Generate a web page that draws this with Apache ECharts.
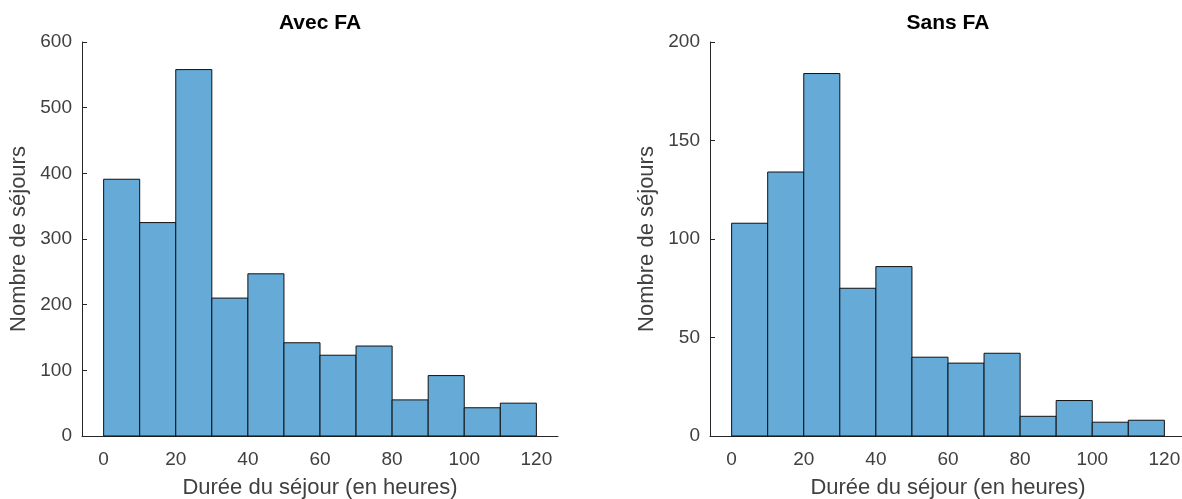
<!DOCTYPE html>
<html>
<head>
<meta charset="utf-8">
<script src="https://cdn.jsdelivr.net/npm/echarts@6/dist/echarts.min.js"></script>
<style>
html,body{margin:0;padding:0;background:#fff;}
#chart{width:1182px;height:499px;}
</style>
</head>
<body>
<div id="chart"></div>
<script>
// ---- data ----
const binEdges = [0, 10, 20, 30, 40, 50, 60, 70, 80, 90, 100, 110, 120];
const avecCounts = [391, 325, 558, 210, 247, 142, 123, 137, 55, 92, 43, 50];
const sansCounts = [108, 134, 184, 75, 86, 40, 37, 42, 10, 18, 7, 8];
const xTicks = [0, 20, 40, 60, 80, 100, 120];
const titles = ['Avec FA', 'Sans FA'];
const xName = 'Durée du séjour (en heures)';
const yName = 'Nombre de séjours';

// ---- styling ----
const FONT = '"Liberation Sans", Arial, Helvetica, sans-serif';
const AXIS = '#262626';
const TEXT = '#404040';
const BAR = '#66aad7';

function histData(counts) {
  return counts.map((c, i) => [binEdges[i], binEdges[i + 1], c]);
}

function renderItem(params, api) {
  const x0 = api.value(0), x1 = api.value(1), y = api.value(2);
  const p0 = api.coord([x0, y]);
  const p1 = api.coord([x1, 0]);
  return {
    type: 'rect',
    shape: { x: p0[0], y: p0[1], width: p1[0] - p0[0], height: p1[1] - p0[1] },
    style: { fill: BAR, stroke: '#111', lineWidth: 1 }
  };
}

function xAxis(idx) {
  return {
    type: 'value', gridIndex: idx, min: -6, max: 126,
    name: xName, nameLocation: 'middle', nameGap: 41,
    nameTextStyle: { fontFamily: FONT, fontSize: 22, color: TEXT },
    axisLine: { show: true, onZero: false, lineStyle: { color: AXIS, width: 1 } },
    axisTick: { show: false },
    axisLabel: { customValues: xTicks, margin: 14, fontFamily: FONT, fontSize: 19, color: TEXT },
    splitLine: { show: false }
  };
}
function yAxis(idx, max, interval) {
  return {
    type: 'value', gridIndex: idx, min: 0, max: max, interval: interval,
    name: yName, nameLocation: 'middle', nameGap: 52,
    nameTextStyle: { fontFamily: FONT, fontSize: 22, color: TEXT },
    axisLine: { show: true, onZero: false, lineStyle: { color: AXIS, width: 1 } },
    axisTick: { show: true, inside: true, length: 5, lineStyle: { color: AXIS } },
    axisLabel: { margin: 10, fontFamily: FONT, fontSize: 19, color: TEXT },
    splitLine: { show: false }
  };
}

const chart = echarts.init(document.getElementById('chart'));
chart.setOption({
  backgroundColor: '#fff',
  animation: false,
  title: [
    { text: titles[0], left: 320, top: 13, padding: 0, textAlign: 'center',
      textStyle: { fontFamily: FONT, fontSize: 21, fontWeight: 'bold', color: '#000' } },
    { text: titles[1], left: 948, top: 13, padding: 0, textAlign: 'center',
      textStyle: { fontFamily: FONT, fontSize: 21, fontWeight: 'bold', color: '#000' } }
  ],
  grid: [
    { left: 82, top: 42, width: 476, height: 394, outerBoundsMode: 'none', containLabel: false },
    { left: 710, top: 42, width: 476, height: 394, outerBoundsMode: 'none', containLabel: false }
  ],
  xAxis: [xAxis(0), xAxis(1)],
  yAxis: [yAxis(0, 600, 100), yAxis(1, 200, 50)],
  series: [
    { type: 'custom', xAxisIndex: 0, yAxisIndex: 0, renderItem: renderItem,
      encode: { x: [0, 1], y: 2 }, data: histData(avecCounts) },
    { type: 'custom', xAxisIndex: 1, yAxisIndex: 1, renderItem: renderItem,
      encode: { x: [0, 1], y: 2 }, data: histData(sansCounts) }
  ]
});
</script>
</body>
</html>
